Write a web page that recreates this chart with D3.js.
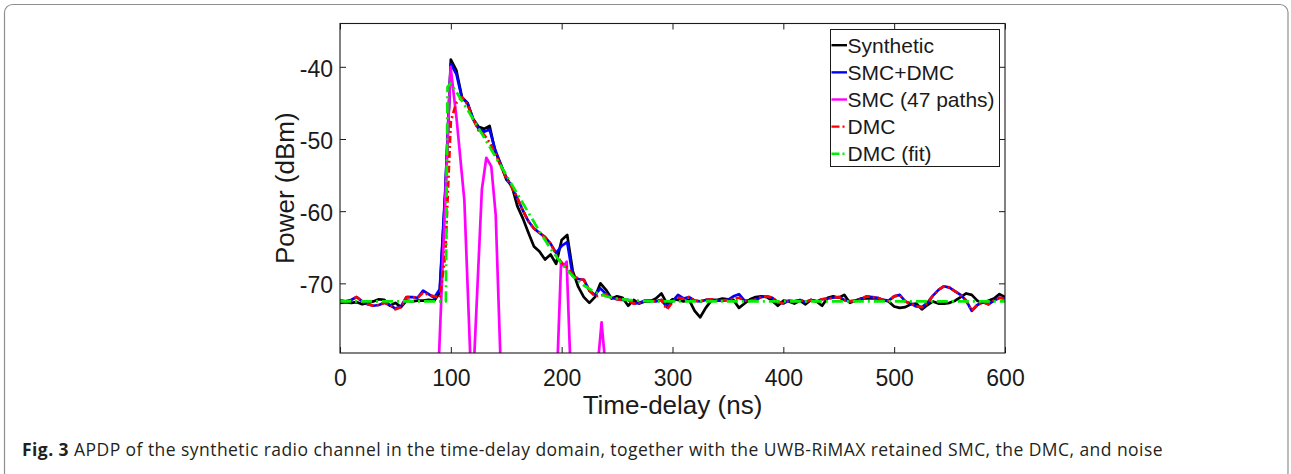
<!DOCTYPE html>
<html>
<head>
<meta charset="utf-8">
<script src="https://cdn.jsdelivr.net/npm/d3@7"></script>
<style>
  html, body { margin: 0; padding: 0; background: #fff; }
  svg { display: block; }
</style>
</head>
<body>
<svg id="chart" width="1291" height="474"></svg>
<script>
// ---------------- DATA ----------------
const delayGrid = d3.range(0, 601, 5); // ns, sampling grid of the APDP curves

const synthetic = [
  -72.7,-72.6,-72.7,-72.6,-72.9,-72.7,-72.5,-72.2,-72.3,-73.1,
  -72.7,-73.3,-72.4,-72.5,-72.4,-72.4,-72.3,-72.4,-71.3,-57.5,
  -39.0,-40.5,-44.2,-45.0,-47.2,-48.3,-48.6,-48.2,-51.7,-53.5,
  -55.6,-56.5,-59.3,-61.0,-63.0,-64.9,-65.6,-66.7,-66.0,-67.3,
  -64.0,-63.3,-68.3,-70.5,-71.9,-72.7,-71.9,-70.0,-70.9,-72.1,
  -71.8,-72.0,-73.1,-72.3,-72.8,-72.5,-72.5,-72.1,-71.4,-72.8,
  -72.2,-72.3,-72.5,-72.3,-73.8,-74.7,-73.4,-72.4,-72.3,-72.1,
  -72.2,-72.3,-73.4,-72.8,-72.2,-71.9,-71.8,-71.9,-72.4,-73.1,
  -72.4,-72.5,-72.8,-72.4,-72.9,-72.3,-72.5,-73.1,-72.0,-71.8,
  -72.0,-71.6,-72.7,-72.4,-72.1,-72.1,-72.1,-72.1,-72.3,-72.5,
  -73.2,-73.4,-73.3,-72.9,-72.8,-73.6,-73.0,-72.5,-72.8,-72.8,
  -72.7,-72.4,-71.9,-71.4,-71.6,-72.4,-72.7,-72.4,-72.1,-71.5,
  -71.9
];

const smcDmc = [
  -72.4,-72.5,-72.3,-71.9,-72.5,-72.9,-73.1,-73.0,-72.7,-73.0,
  -73.5,-73.2,-71.9,-71.9,-72.0,-71.0,-71.5,-72.0,-70.8,-57.0,
  -39.6,-41.0,-44.3,-45.0,-47.2,-48.6,-49.0,-48.7,-51.5,-53.5,
  -55.3,-56.6,-58.2,-59.9,-61.4,-62.4,-63.0,-63.6,-64.5,-65.8,
  -64.8,-64.3,-69.0,-69.4,-69.5,-71.0,-71.6,-70.7,-71.5,-72.0,
  -72.2,-72.3,-72.3,-72.8,-72.7,-72.4,-72.4,-72.5,-72.3,-73.3,
  -72.5,-71.6,-72.1,-71.9,-72.4,-72.5,-72.3,-72.2,-72.4,-72.4,
  -72.3,-71.8,-71.5,-72.4,-72.4,-72.3,-71.9,-71.8,-72.0,-72.6,
  -72.8,-72.4,-72.5,-72.3,-72.6,-72.3,-72.5,-72.2,-72.1,-72.0,
  -71.9,-72.3,-72.5,-72.4,-72.2,-71.8,-71.9,-72.0,-72.3,-72.4,
  -71.8,-71.6,-72.5,-72.8,-73.2,-73.3,-72.7,-71.7,-70.9,-70.4,
  -70.6,-71.1,-71.6,-72.4,-73.8,-73.0,-72.6,-72.9,-72.4,-72.0,
  -72.1
];

const dmc = [
  -72.4,-72.5,-72.3,-71.9,-72.5,-72.9,-73.1,-73.0,-72.7,-73.0,
  -73.6,-73.3,-71.9,-71.9,-72.0,-71.3,-71.6,-71.8,-72.0,-66.0,
  -47.5,-45.0,-44.2,-45.2,-47.2,-48.8,-49.4,-50.5,-52.0,-53.7,
  -55.4,-56.7,-58.2,-59.9,-61.4,-62.4,-63.0,-63.6,-64.5,-66.0,
  -67.2,-67.8,-68.8,-69.4,-69.5,-71.0,-71.8,-71.7,-71.5,-72.0,
  -72.2,-72.3,-72.3,-72.8,-72.7,-72.4,-72.4,-72.5,-72.3,-73.6,
  -72.6,-72.0,-72.1,-71.9,-72.4,-72.5,-72.3,-72.2,-72.4,-72.4,
  -72.3,-72.2,-72.0,-72.4,-72.4,-72.3,-71.9,-71.8,-72.0,-72.6,
  -72.8,-72.4,-72.5,-72.3,-72.6,-72.3,-72.5,-72.2,-72.1,-72.0,
  -71.9,-72.3,-72.5,-72.4,-72.2,-71.8,-71.9,-72.0,-72.3,-72.4,
  -71.8,-71.6,-72.5,-72.8,-73.2,-73.3,-72.7,-71.7,-70.9,-70.4,
  -70.6,-71.1,-71.6,-72.4,-73.8,-73.0,-72.6,-72.9,-72.4,-72.0,
  -72.1
];

// SMC (47 paths): values below the axis floor leave the plot
const smcDelay = [87.5, 99.8, 105.3, 112.2, 118.5, 120, 128, 132, 136.5, 140.5, 145.5,
                  195.5, 199.5, 202, 204.5, 208.5, 231, 236, 241];
const smcPower = [-87, -40.0, -47.4, -58.5, -84, -84, -57.0, -52.6, -53.8, -60.5, -84,
                  -84, -67.0, -67.6, -67.0, -84, -84, -75.4, -84];

// DMC (fit)
const fitDelay = [0, 95.5, 97, 100, 110, 120, 130, 140, 150, 160, 170, 180, 190,
                  200, 210, 220, 230, 240, 250, 260, 270, 280, 600];
const fitPower = [-72.5, -72.5, -42.8, -42.3, -44.7, -47.2, -49.8, -52.4, -55.0, -57.6,
                  -60.2, -62.8, -65.2, -67.3, -69.0, -70.3, -71.2, -71.8, -72.1, -72.3,
                  -72.4, -72.5, -72.5];

const seriesNames = ["Synthetic", "SMC+DMC", "SMC (47 paths)", "DMC", "DMC (fit)"];
const xTicks = [0, 100, 200, 300, 400, 500, 600];
const yTicks = [-70, -60, -50, -40];
const xLabel = "Time-delay (ns)";
const yLabel = "Power (dBm)";
const captionBold = "Fig. 3";
const captionText = " APDP of the synthetic radio channel in the time-delay domain, together with the UWB-RiMAX retained SMC, the DMC, and noise";

// ---------------- LAYOUT ----------------
const plot = { left: 340, right: 1005, top: 23.5, bottom: 353 };
const font = "'Liberation Sans', Arial, Helvetica, sans-serif";
const ink = "#1a1a1a";

const svg = d3.select("#chart");

// outer frame
svg.append("rect")
  .attr("x", 4.5).attr("y", 4.5).attr("width", 1283.5).attr("height", 476)
  .attr("rx", 8).attr("ry", 8)
  .attr("fill", "none").attr("stroke", "#8f8f8f").attr("stroke-width", 1.2);

const x = d3.scaleLinear().domain([0, 600]).range([plot.left, plot.right]);
const y = d3.scaleLinear().domain([-79.65, -34.0]).range([plot.bottom, plot.top]);

svg.append("defs").append("clipPath").attr("id", "clip")
  .append("rect")
  .attr("x", plot.left).attr("y", plot.top)
  .attr("width", plot.right - plot.left).attr("height", plot.bottom - plot.top);

const hyphenFmt = d => String(d);

// axes
const gx = svg.append("g").attr("transform", `translate(0,${plot.bottom})`)
  .call(d3.axisBottom(x).tickValues(xTicks).tickFormat(hyphenFmt).tickSizeInner(-6).tickSizeOuter(0).tickPadding(16.5));
const gxt = svg.append("g").attr("transform", `translate(0,${plot.top})`)
  .call(d3.axisTop(x).tickValues(xTicks).tickSizeInner(-6).tickSizeOuter(0).tickFormat(""));
const gy = svg.append("g").attr("transform", `translate(${plot.left},0)`)
  .call(d3.axisLeft(y).tickValues(yTicks).tickFormat(hyphenFmt).tickSizeInner(-6).tickSizeOuter(0).tickPadding(7));
const gyr = svg.append("g").attr("transform", `translate(${plot.right},0)`)
  .call(d3.axisRight(y).tickValues(yTicks).tickSizeInner(-6).tickSizeOuter(0).tickFormat(""));

[gx, gxt, gy, gyr].forEach(g => {
  g.select(".domain").remove();
  g.selectAll(".tick line").attr("stroke", ink).attr("stroke-width", 1);
  g.selectAll("text").attr("fill", ink).style("font-family", font).style("font-size", "23px");
});
gy.selectAll("text").attr("dy", "0.4em");

// series
const lineXY = d3.line().x(d => x(d[0])).y(d => y(d[1]));
const plotG = svg.append("g").attr("clip-path", "url(#clip)");

const series = [
  { name: seriesNames[0], pts: delayGrid.map((t, i) => [t, synthetic[i]]), color: "#000000", dash: null },
  { name: seriesNames[1], pts: delayGrid.map((t, i) => [t, smcDmc[i]]), color: "#0000ff", dash: null },
  { name: seriesNames[2], pts: smcDelay.map((t, i) => [t, smcPower[i]]), color: "#ff00ff", dash: null },
  { name: seriesNames[3], pts: delayGrid.map((t, i) => [t, dmc[i]]), color: "#ff0000", dash: "7,3,2,3" },
  { name: seriesNames[4], pts: fitDelay.map((t, i) => [t, fitPower[i]]), color: "#00ee00", dash: "11,4,2,4" }
];

series.forEach(s => {
  plotG.append("path")
    .attr("d", lineXY(s.pts))
    .attr("fill", "none")
    .attr("stroke", s.color)
    .attr("stroke-width", 2.7)
    .attr("stroke-linejoin", "round")
    .attr("stroke-dasharray", s.dash);
});

// box
svg.append("rect")
  .attr("x", plot.left).attr("y", plot.top)
  .attr("width", plot.right - plot.left).attr("height", plot.bottom - plot.top)
  .attr("fill", "none").attr("stroke", ink).attr("stroke-width", 1.1);

// axis labels
svg.append("text")
  .attr("x", (plot.left + plot.right) / 2).attr("y", 413.5)
  .attr("text-anchor", "middle")
  .style("font-family", font).style("font-size", "26px").attr("fill", ink)
  .text(xLabel);

svg.append("text")
  .attr("transform", `translate(294,${(plot.top + plot.bottom) / 2}) rotate(-90)`)
  .attr("text-anchor", "middle")
  .style("font-family", font).style("font-size", "26px").attr("fill", ink)
  .text(yLabel);

// legend
const leg = svg.append("g");
leg.append("rect")
  .attr("x", 830.5).attr("y", 29.5).attr("width", 169).attr("height", 137)
  .attr("fill", "#fff").attr("stroke", ink).attr("stroke-width", 1);
series.forEach((s, i) => {
  const base = 52.7 + i * 27.15;
  leg.append("line")
    .attr("x1", 831.5).attr("x2", 847).attr("y1", base - 7.5).attr("y2", base - 7.5)
    .attr("stroke", s.color).attr("stroke-width", 2.4)
    .attr("stroke-dasharray", s.dash ? "8,3,2,3" : null);
  leg.append("text")
    .attr("x", 847.5).attr("y", base)
    .style("font-family", font).style("font-size", "21px").attr("fill", ink)
    .text(s.name);
});

// caption: size the humanist sans so that its line spans the same width as the original
const cap = svg.append("text")
  .attr("x", 22).attr("y", 455.5)
  .style("font-family", "'Open Sans', 'Noto Sans', sans-serif")
  .style("font-size", "16px").attr("fill", "#231f20");
cap.append("tspan").style("font-weight", "bold").text(captionBold);
cap.append("tspan").text(captionText);
const targetW = 1141;
const w0 = cap.node().getComputedTextLength();
let fs = 16 * targetW / w0;
fs = Math.max(14, Math.min(17.5, fs));
cap.style("font-size", fs + "px");
const w1 = cap.node().getComputedTextLength();
const nChars = (captionBold + captionText).length;
cap.style("letter-spacing", ((targetW - w1) / nChars) + "px");
</script>
</body>
</html>
